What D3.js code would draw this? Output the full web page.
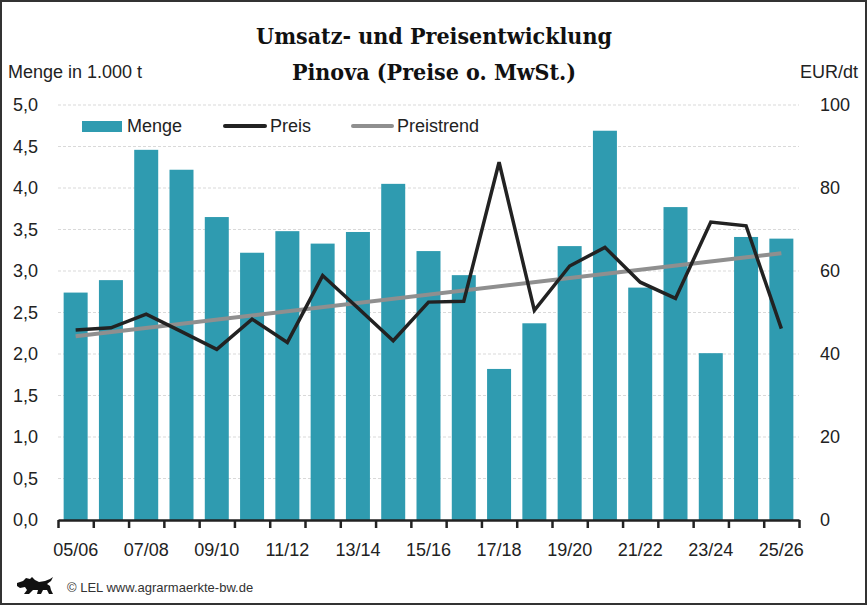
<!DOCTYPE html>
<html>
<head>
<meta charset="utf-8">
<script src="https://cdn.jsdelivr.net/npm/d3@7"></script>
<style>
  body { margin: 0; background: #fff; }
  svg { display: block; }
  .axis text { font-family: 'Liberation Sans', Arial, sans-serif; font-size: 18px; fill: #222; }
  .legend text, .axis-title { font-family: 'Liberation Sans', Arial, sans-serif; font-size: 18px; fill: #222; }
  .title { font-family: 'DejaVu Serif Condensed', 'DejaVu Serif', serif; font-weight: bold; font-size: 23px; fill: #111; }
</style>
</head>
<body>
<svg id="chart"></svg>
<script>
// Wirtschaftsjahre
const seasons = ['05/06','06/07','07/08','08/09','09/10','10/11','11/12','12/13','13/14','14/15',
                 '15/16','16/17','17/18','18/19','19/20','20/21','21/22','22/23','23/24','24/25','25/26'];
// Menge in 1.000 t
const menge = [2.74, 2.89, 4.46, 4.22, 3.65, 3.22, 3.48, 3.33, 3.47, 4.05,
               3.24, 2.95, 1.82, 2.37, 3.30, 4.69, 2.80, 3.77, 2.01, 3.41, 3.39];
// Preis EUR/dt
const preis = [45.8, 46.3, 49.6, 45.4, 41.1, 48.4, 42.8, 58.9, 51.1, 43.2,
               52.5, 52.7, 86.2, 50.5, 61.2, 65.7, 57.3, 53.4, 71.8, 70.9, 46.1];
// Preistrend (Anfang / Ende)
const trendSeasons = ['05/06', '25/26'];
const trendValues = [44.3, 64.3];

const leftTicks = [0, 0.5, 1, 1.5, 2, 2.5, 3, 3.5, 4, 4.5, 5];
const rightTicks = [0, 20, 40, 60, 80, 100];
const labelSeasons = seasons.filter((d, i) => i % 2 === 0);

const W = 867, H = 605;
const margin = {top: 105, left: 58, right: 68, bottom: 85};
const x0 = margin.left, x1 = W - margin.right, yTop = margin.top, yBottom = H - margin.bottom;

const svg = d3.select('#chart').attr('width', W).attr('height', H);

const x = d3.scaleBand().domain(seasons).range([x0, x1]).paddingInner(0.32).paddingOuter(0.16);
const xEdge = d3.scaleLinear().domain([0, seasons.length]).range([x0, x1]);
const yL = d3.scaleLinear().domain([0, 5]).range([yBottom, yTop]);
const yR = d3.scaleLinear().domain([0, 100]).range([yBottom, yTop]);
const fmt = d3.format('.1f');

// frame
svg.append('rect').attr('x', 1).attr('y', 1).attr('width', W - 2).attr('height', H - 2)
  .attr('fill', 'none').attr('stroke', '#333').attr('stroke-width', 2);

// grid
svg.append('g').selectAll('line').data(leftTicks.slice(1)).join('line')
  .attr('x1', x0).attr('x2', x1)
  .attr('y1', d => yL(d)).attr('y2', d => yL(d))
  .attr('stroke', '#d9d9d9').attr('stroke-width', 1).attr('stroke-dasharray', '3,2');

// bars
svg.append('g').selectAll('rect').data(menge).join('rect')
  .attr('x', (d, i) => x(seasons[i]))
  .attr('y', d => yL(d))
  .attr('width', x.bandwidth())
  .attr('height', d => yL(0) - yL(d))
  .attr('fill', '#2f9bb0');

// trend
const cx = s => x(s) + x.bandwidth() / 2;
svg.append('path')
  .datum(trendValues)
  .attr('d', d3.line().x((d, i) => cx(trendSeasons[i])).y(d => yR(d)))
  .attr('fill', 'none').attr('stroke', '#8f8f8f').attr('stroke-width', 4);

// price line
svg.append('path')
  .datum(preis)
  .attr('d', d3.line().x((d, i) => cx(seasons[i])).y(d => yR(d)))
  .attr('fill', 'none').attr('stroke', '#222').attr('stroke-width', 3.5)
  .attr('stroke-linejoin', 'miter');

// left axis
const gl = svg.append('g').attr('class', 'axis').attr('transform', `translate(${x0},0)`)
  .call(d3.axisLeft(yL).tickValues(leftTicks).tickSize(0).tickPadding(20).tickFormat(d => fmt(d).replace('.', ',')));
gl.select('.domain').remove();

// right axis
const gr = svg.append('g').attr('class', 'axis').attr('transform', `translate(${x1},0)`)
  .call(d3.axisRight(yR).tickValues(rightTicks).tickSize(0).tickPadding(21));
gr.select('.domain').remove();

// x axis: ticks at category edges
const gx = svg.append('g').attr('class', 'axis').attr('transform', `translate(0,${yBottom})`)
  .call(d3.axisBottom(xEdge).tickValues(d3.range(seasons.length + 1)).tickSize(8).tickSizeOuter(0).tickFormat(''));
gx.select('.domain').attr('stroke', '#222').attr('stroke-width', 2.5);
gx.selectAll('.tick line').attr('stroke', '#222').attr('stroke-width', 2.5);

const gxl = svg.append('g').attr('class', 'axis').attr('transform', `translate(0,${yBottom})`)
  .call(d3.axisBottom(x).tickValues(labelSeasons).tickSize(0));
gxl.select('.domain').remove();
gxl.selectAll('text').attr('y', 23).attr('dy', '0.71em');

// axis titles
svg.append('text').attr('class', 'axis-title').attr('x', 8).attr('y', 78).text('Menge in 1.000 t');
svg.append('text').attr('class', 'axis-title').attr('x', 858).attr('y', 78)
  .attr('text-anchor', 'end').text('EUR/dt');

// title
svg.append('text').attr('class', 'title').attr('x', 434).attr('y', 44)
  .attr('text-anchor', 'middle').text('Umsatz- und Preisentwicklung');
svg.append('text').attr('class', 'title').attr('x', 434).attr('y', 80)
  .attr('text-anchor', 'middle').text('Pinova (Preise o. MwSt.)');

// legend
const lg = svg.append('g').attr('class', 'legend');
lg.append('rect').attr('x', 82).attr('y', 121).attr('width', 40).attr('height', 11).attr('fill', '#2f9bb0');
lg.append('text').attr('x', 127).attr('y', 132).text('Menge');
lg.append('line').attr('x1', 225).attr('x2', 265).attr('y1', 126).attr('y2', 126)
  .attr('stroke', '#222').attr('stroke-width', 4).attr('stroke-linecap', 'round');
lg.append('text').attr('x', 270).attr('y', 132).text('Preis');
lg.append('line').attr('x1', 353).attr('x2', 392).attr('y1', 126).attr('y2', 126)
  .attr('stroke', '#8f8f8f').attr('stroke-width', 4).attr('stroke-linecap', 'round');
lg.append('text').attr('x', 397).attr('y', 132).text('Preistrend');

// footer: lion + source
svg.append('path')
  .attr('transform', 'translate(17,577)')
  .attr('d', 'M0,6 L6,4 L9,1 L13,2 L15,0 L18,3 L22,5 L28,4 L33,2 L36,0 L34,4 L30,7 L33,9 L34,13 L36,17 L32,17 L30,13 L26,13 L24,17 L20,17 L21,13 L16,13 L12,17 L7,17 L10,13 L8,10 L3,11 L0,9 Z')
  .attr('fill', '#111');
svg.append('text').attr('x', 67).attr('y', 592)
  .style('font-family', "'Liberation Sans', Arial, sans-serif").style('font-size', '13px').attr('fill', '#333')
  .text('© LEL www.agrarmaerkte-bw.de');
</script>
</body>
</html>
